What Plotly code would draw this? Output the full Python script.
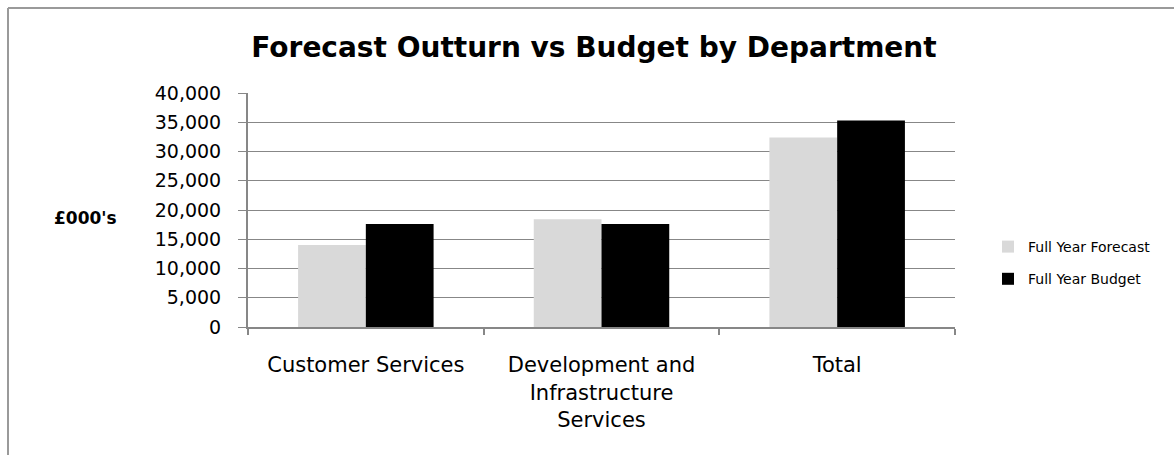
import plotly.graph_objects as go

categories = ["Customer Services", "Development and<br>Infrastructure<br>Services", "Total"]
forecast = [14000, 18400, 32400]
budget = [17600, 17600, 35300]
y_ticks = [0, 5000, 10000, 15000, 20000, 25000, 30000, 35000, 40000]
y_tick_text = ["0", "5,000", "10,000", "15,000", "20,000", "25,000", "30,000", "35,000", "40,000"]

W, H = 1174, 455
L, R, T, B = 248, 955, 93, 327
pw, ph = R - L, B - T

def px(x):
    return (x - L) / pw

def py(y):
    return (B - y) / ph

FONT = "DejaVu Sans"
GRID = "#878787"

fig = go.Figure()
fig.add_trace(go.Bar(name="Full Year Forecast", x=categories, y=forecast,
                     marker=dict(color="#d9d9d9", line=dict(width=0)), legendgroup="a"))
fig.add_trace(go.Bar(name="Full Year Budget", x=categories, y=budget,
                     marker=dict(color="#000000", line=dict(width=0)), legendgroup="b"))

fig.update_layout(
    width=W, height=H,
    margin=dict(l=L, r=W - R, t=T, b=H - B, pad=0),
    paper_bgcolor="white", plot_bgcolor="white",
    barmode="group", bargap=0.425, bargroupgap=0,
    font=dict(family=FONT, color="black"),
    title=dict(text="<b>Forecast Outturn vs Budget by Department</b>",
               font=dict(family=FONT, size=28, color="black"),
               xref="paper", x=px(594), xanchor="center",
               yref="container", y=1 - 47 / H, yanchor="middle"),
    showlegend=True,
    legend=dict(x=px(988), xanchor="left", y=py(263), yanchor="middle",
                font=dict(family=FONT, size=14, color="black"),
                tracegroupgap=11, traceorder="grouped", itemwidth=30,
                bgcolor="rgba(0,0,0,0)"),
    xaxis=dict(showline=True, linecolor=GRID, linewidth=2,
               ticks="outside", tickson="boundaries", ticklen=6, tickcolor=GRID, tickwidth=2,
               tickfont=dict(family=FONT, size=21, color="black"),
               ticklabelstandoff=18, showgrid=False),
    yaxis=dict(range=[0, 40000], tickvals=y_ticks, ticktext=y_tick_text,
               showline=True, linecolor=GRID, linewidth=2,
               ticks="outside", ticklen=8, tickcolor=GRID, tickwidth=1,
               tickfont=dict(family=FONT, size=19, color="black"),
               ticklabelstandoff=13,
               showgrid=True, gridcolor=GRID, gridwidth=1, zeroline=False),
    shapes=[
        dict(type="line", xref="paper", yref="paper", x0=px(8), x1=px(1180), y0=py(8), y1=py(8),
             line=dict(color="#9a9a9a", width=2)),
        dict(type="line", xref="paper", yref="paper", x0=px(8), x1=px(8), y0=py(8), y1=py(470),
             line=dict(color="#9a9a9a", width=2)),
    ],
    annotations=[
        dict(text="<b>£000's</b>", xref="paper", yref="paper", x=px(85), y=py(218),
             xanchor="center", yanchor="middle", showarrow=False,
             font=dict(family=FONT, size=17, color="black")),
    ],
)

fig.write_html("out.html")
